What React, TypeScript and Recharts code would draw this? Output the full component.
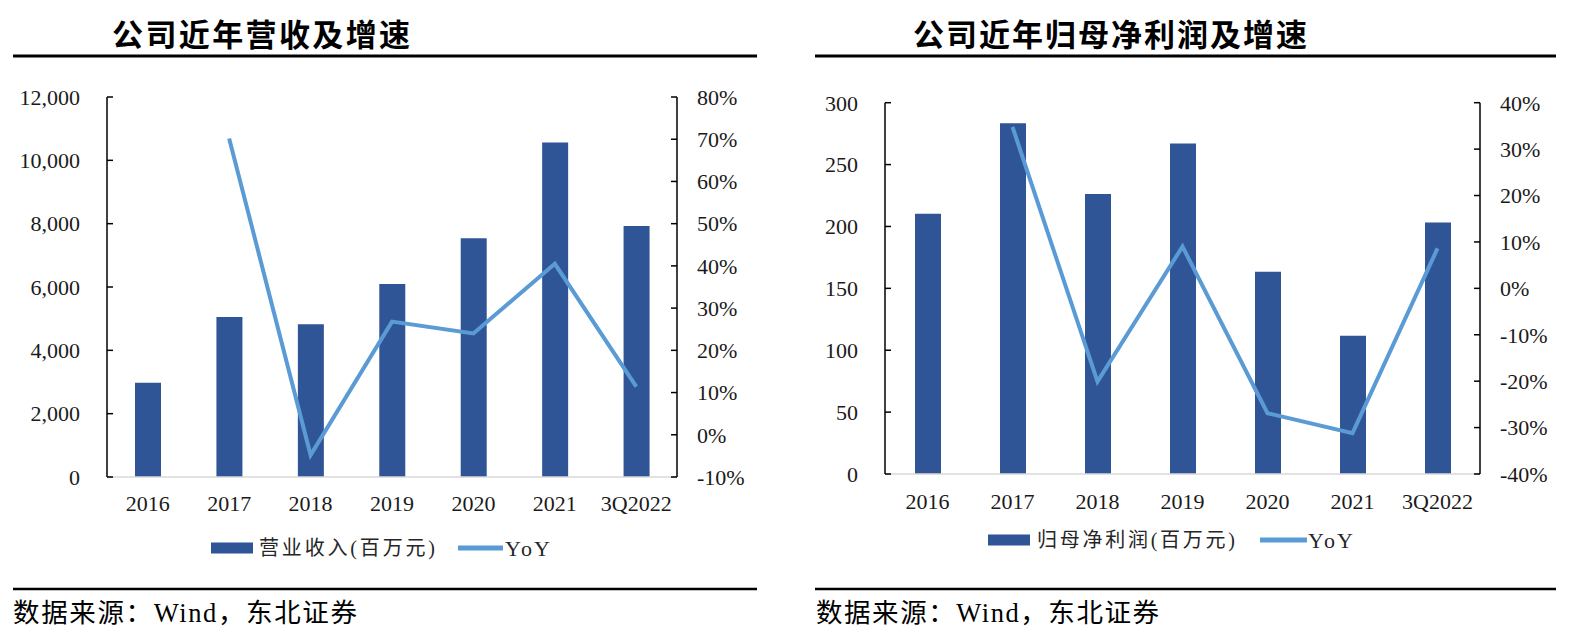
import React from 'react';
import { ComposedChart, Bar, Line, XAxis, YAxis } from 'recharts';

const categories = ['2016', '2017', '2018', '2019', '2020', '2021', '3Q2022'];
const revenue = [2975, 5050, 4820, 6095, 7540, 10560, 7925];
const revenueYoY: (number | null)[] = [null, 70.2, -4.8, 26.8, 24.0, 40.5, 11.4];
const profit = [210.3, 283.3, 226.2, 267.0, 163.5, 111.8, 203.3];
const profitYoY: (number | null)[] = [null, 34.8, -20.1, 9.0, -26.9, -31.2, 8.6];

const revenueTicks = [0, 2000, 4000, 6000, 8000, 10000, 12000];
const revenueYoYTicks = [-10, 0, 10, 20, 30, 40, 50, 60, 70, 80];
const profitTicks = [0, 50, 100, 150, 200, 250, 300];
const profitYoYTicks = [-40, -30, -20, -10, 0, 10, 20, 30, 40];

const BAR = '#2F5597';
const LINE = '#5B9BD5';
const SERIF = "'Liberation Serif', 'Times New Roman', serif";
const CJK = "'Noto Sans CJK SC', sans-serif";
const tickStyle = { fill: '#1a1a1a', fontFamily: SERIF, fontSize: 22 };

type ChartProps = {
  left: number;
  width: number;
  top: number;
  bottom: number;
  leftW: number;
  rightW: number;
  xTickMargin: number;
  values: number[];
  yoy: (number | null)[];
  leftTicks: number[];
  rightTicks: number[];
  leftFmt: (v: number) => string;
};

function DualChart(p: ChartProps) {
  const data = categories.map((c, i) => ({ cat: c, v: p.values[i], y: p.yoy[i] }));
  return (
    <div style={{ position: 'absolute', left: p.left, top: 0 }}>
      <ComposedChart
        width={p.width}
        height={637}
        data={data}
        margin={{ top: p.top, right: 0, bottom: p.bottom, left: 0 }}
      >
        <XAxis
          dataKey="cat"
          height={30}
          axisLine={{ stroke: '#D9D9D9', strokeWidth: 1.5 }}
          tickLine={false}
          tickSize={0}
          tickMargin={p.xTickMargin}
          tick={tickStyle}
          interval={0}
        />
        <YAxis
          yAxisId="left"
          orientation="left"
          width={p.leftW}
          domain={[p.leftTicks[0], p.leftTicks[p.leftTicks.length - 1]]}
          ticks={p.leftTicks}
          interval={0}
          tickFormatter={p.leftFmt}
          axisLine={{ stroke: '#000', strokeWidth: 1.5 }}
          tickLine={{ stroke: '#000', strokeWidth: 1.5 }}
          tickSize={-6}
          tickMargin={33}
          tick={tickStyle}
        />
        <YAxis
          yAxisId="right"
          orientation="right"
          width={p.rightW}
          domain={[p.rightTicks[0], p.rightTicks[p.rightTicks.length - 1]]}
          ticks={p.rightTicks}
          interval={0}
          tickFormatter={(v: number) => `${v}%`}
          axisLine={{ stroke: '#000', strokeWidth: 1.5 }}
          tickLine={{ stroke: '#000', strokeWidth: 1.5 }}
          tickSize={-6}
          tickMargin={26}
          tick={{ ...tickStyle, textAnchor: 'start' }}
        />
        <Bar yAxisId="left" dataKey="v" fill={BAR} barSize={26} isAnimationActive={false} />
        <Line
          yAxisId="right"
          dataKey="y"
          stroke={LINE}
          strokeWidth={4}
          dot={false}
          activeDot={false}
          connectNulls={false}
          isAnimationActive={false}
        />
      </ComposedChart>
    </div>
  );
}

function Overlay() {
  return (
    <svg
      width={1573}
      height={637}
      style={{ position: 'absolute', left: 0, top: 0, pointerEvents: 'none' }}
    >
      {/* titles */}
      <text x={112} y={32} dominantBaseline="central" textLength={298} lengthAdjust="spacing"
        style={{ fontFamily: CJK, fontSize: 31, fontWeight: 700, fill: '#000' }}>公司近年营收及增速</text>
      <text x={913} y={32} dominantBaseline="central" textLength={394} lengthAdjust="spacing"
        style={{ fontFamily: CJK, fontSize: 31, fontWeight: 700, fill: '#000' }}>公司近年归母净利润及增速</text>
      {/* rules */}
      <line x1={13} x2={757} y1={56} y2={56} stroke="#000" strokeWidth={3} />
      <line x1={815} x2={1556} y1={56} y2={56} stroke="#000" strokeWidth={3} />
      <line x1={13} x2={757} y1={589} y2={589} stroke="#000" strokeWidth={2.5} />
      <line x1={815} x2={1556} y1={589} y2={589} stroke="#000" strokeWidth={2.5} />
      {/* left legend */}
      <rect x={211} y={542.5} width={42} height={11} fill={BAR} />
      <text x={259} y={548} dominantBaseline="central" textLength={176} lengthAdjust="spacing"
        style={{ fontFamily: SERIF + ", 'Noto Sans CJK SC'", fontSize: 20, fill: '#262626' }}>营业收入(百万元)</text>
      <line x1={458} x2={503} y1={548} y2={548} stroke={LINE} strokeWidth={5} />
      <text x={505} y={548} dominantBaseline="central" textLength={45} lengthAdjust="spacing"
        style={{ fontFamily: SERIF, fontSize: 22, fill: '#262626' }}>YoY</text>
      {/* right legend */}
      <rect x={988} y={534.5} width={42} height={11} fill={BAR} />
      <text x={1037} y={540} dominantBaseline="central" textLength={198} lengthAdjust="spacing"
        style={{ fontFamily: SERIF + ", 'Noto Sans CJK SC'", fontSize: 20, fill: '#262626' }}>归母净利润(百万元)</text>
      <line x1={1260} x2={1307} y1={540} y2={540} stroke={LINE} strokeWidth={5} />
      <text x={1308} y={540} dominantBaseline="central" textLength={45} lengthAdjust="spacing"
        style={{ fontFamily: SERIF, fontSize: 22, fill: '#262626' }}>YoY</text>
      {/* footers */}
      <text x={13} y={613} dominantBaseline="central" textLength={344} lengthAdjust="spacing"
        style={{ fontFamily: SERIF + ", 'Noto Sans CJK SC'", fontSize: 26.5, fill: '#000' }}>数据来源：Wind，东北证券</text>
      <text x={816} y={613} dominantBaseline="central" textLength={343} lengthAdjust="spacing"
        style={{ fontFamily: SERIF + ", 'Noto Sans CJK SC'", fontSize: 26.5, fill: '#000' }}>数据来源：Wind，东北证券</text>
    </svg>
  );
}

export default function App() {
  return (
    <div style={{ position: 'absolute', left: 0, top: 0, width: 1573, height: 637, background: '#fff', overflow: 'hidden' }}>
      <DualChart
        left={0}
        width={780}
        top={97}
        bottom={130}
        leftW={107}
        rightW={103}
        xTickMargin={18.5}
        values={revenue}
        yoy={revenueYoY}
        leftTicks={revenueTicks}
        rightTicks={revenueYoYTicks}
        leftFmt={(v: number) => v.toLocaleString('en-US')}
      />
      <DualChart
        left={780}
        width={793}
        top={102.7}
        bottom={133}
        leftW={105}
        rightW={93}
        xTickMargin={19.5}
        values={profit}
        yoy={profitYoY}
        leftTicks={profitTicks}
        rightTicks={profitYoYTicks}
        leftFmt={(v: number) => String(v)}
      />
      <Overlay />
    </div>
  );
}
